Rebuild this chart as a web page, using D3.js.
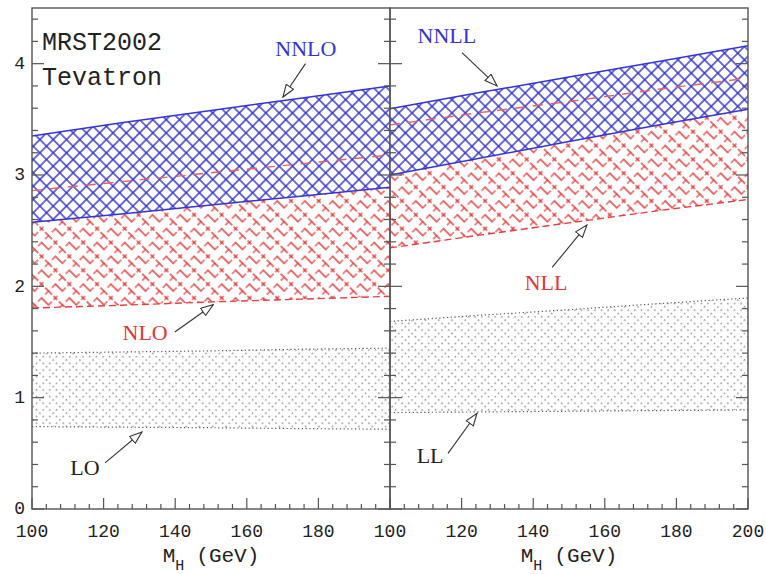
<!DOCTYPE html>
<html><head><meta charset="utf-8">
<script src="https://cdn.jsdelivr.net/npm/d3@7/dist/d3.min.js"></script>
<style>body{margin:0;background:#fff}</style>
</head><body><svg id="c" width="766" height="574"></svg>
<script>
// ---- data ----
const massPoints = [100, 125, 150, 175, 200];
// left panel (fixed order)
const nnloUpper = [3.35, 3.47, 3.58, 3.69, 3.80];
const nnloLower = [2.575, 2.65, 2.73, 2.81, 2.89];
const nloUpper  = [2.86, 2.94, 3.02, 3.10, 3.18];
const nloLower  = [1.805, 1.83, 1.86, 1.885, 1.91];
const loUpper   = [1.40, 1.41, 1.42, 1.435, 1.445];
const loLower   = [0.74, 0.735, 0.73, 0.722, 0.717];
// right panel (resummed)
const nnllUpper = [3.595, 3.74, 3.88, 4.02, 4.16];
const nnllLower = [3.00, 3.15, 3.30, 3.45, 3.59];
const nllUpper  = [3.45, 3.56, 3.66, 3.77, 3.87];
const nllLower  = [2.345, 2.46, 2.57, 2.68, 2.78];
const llUpper   = [1.685, 1.74, 1.79, 1.845, 1.895];
const llLower   = [0.866, 0.872, 0.878, 0.884, 0.89];
const xTickValues = [100, 120, 140, 160, 180, 200];
const yTickValues = [0, 1, 2, 3, 4];
// annotations: [label, textX, textY, arrowFromX, arrowFromY, arrowToX, arrowToY, colour] in data units
const leftLabels = [
  ["NNLO", 176.5, 4.065, 176.4, 4.00, 170.1, 3.70, "blue"],
  ["NLO", 131.6, 1.52, 139.9, 1.59, 150.6, 1.835, "red"],
  ["LO", 114.8, 0.306, 120.4, 0.414, 130.7, 0.692, "black"]
];
const rightLabels = [
  ["NNLL", 115.9, 4.19, 120.1, 4.10, 129.9, 3.80, "blue"],
  ["NLL", 143.6, 1.97, 145.3, 2.17, 155.0, 2.55, "red"],
  ["LL", 111.2, 0.414, 116.2, 0.50, 124.3, 0.86, "black"]
];

// ---- layout ----
const svg = d3.select("#c");
const topY = 8, bottomY = 509;
const panels = [
  {x0: 32, x1: 390, bands: {hi:[nnloLower,nnloUpper], mid:[nloLower,nloUpper], lo:[loLower,loUpper]}, labels: leftLabels, showLast:false},
  {x0: 390, x1: 748, bands: {hi:[nnllLower,nnllUpper], mid:[nllLower,nllUpper], lo:[llLower,llUpper]}, labels: rightLabels, showLast:true}
];
const y = d3.scaleLinear().domain([0, 4.5]).range([bottomY, topY]);
const colors = {blue:"#3434d4", red:"#e23636", black:"#222"};
const mono = "'Liberation Mono','Courier New',monospace";
const serif = "'Liberation Serif','Times New Roman',serif";

const defs = svg.append("defs");
// blue crosshatch
const cb = 9.4;
const pb = defs.append("pattern").attr("id","blueHatch").attr("patternUnits","userSpaceOnUse")
  .attr("width",cb).attr("height",cb).attr("patternTransform","rotate(45)");
pb.append("rect").attr("width",cb).attr("height",cb).attr("fill","#fff");
pb.append("line").attr("x1",0).attr("y1",cb/2).attr("x2",cb).attr("y2",cb/2).attr("stroke","#3030cc").attr("stroke-width",1.4);
pb.append("line").attr("x1",cb/2).attr("y1",0).attr("x2",cb/2).attr("y2",cb).attr("stroke","#3030cc").attr("stroke-width",1.4);
// red dashed hatch (corners, tees and crosses)
const cr = 9.8, hr = cr/2, a = 4.6;
const pr = defs.append("pattern").attr("id","redHatch").attr("patternUnits","userSpaceOnUse")
  .attr("width",2*cr).attr("height",2*cr).attr("patternTransform","rotate(45)");
const shapes = [
  [hr, hr, [[1,0],[0,1]]],
  [cr+hr, hr, [[-1,0],[0,-1]]],
  [hr, cr+hr, [[-1,0],[1,0],[0,1]]],
  [cr+hr, cr+hr, [[1,0],[0,1],[-1,0],[0,-1]], 2.2]
];
shapes.forEach(s => {
  const len = s[3] || a;
  s[2].forEach(d => pr.append("line").attr("x1",s[0]).attr("y1",s[1])
    .attr("x2",s[0]+d[0]*len).attr("y2",s[1]+d[1]*len)
    .attr("stroke","#e64040").attr("stroke-width",1.25).attr("stroke-linecap","round"));
});
// dotted hatch
const cd = 9.4;
const pd = defs.append("pattern").attr("id","dotHatch").attr("patternUnits","userSpaceOnUse")
  .attr("width",cd).attr("height",cd).attr("patternTransform","rotate(45)");
[[0,0],[cd/2,0],[0,cd/2]].forEach(p =>
  pd.append("rect").attr("x",p[0]+0.2).attr("y",p[1]+0.2).attr("width",1.2).attr("height",1.2).attr("fill","#555"));
// arrow marker
defs.append("marker").attr("id","arr").attr("viewBox","0 0 14 10").attr("refX",13).attr("refY",5)
  .attr("markerWidth",14).attr("markerHeight",10).attr("markerUnits","userSpaceOnUse").attr("orient","auto")
  .append("path").attr("d","M0.6,0.6 L13,5 L0.6,9.4 Z").attr("fill","#fff").attr("stroke","#333").attr("stroke-width",1.1);

panels.forEach((p, i) => {
  const x = d3.scaleLinear().domain([100, 200]).range([p.x0, p.x1]);
  const cid = "clip" + i;
  defs.append("clipPath").attr("id", cid).append("rect")
    .attr("x", p.x0).attr("y", topY).attr("width", p.x1 - p.x0).attr("height", bottomY - topY);
  const g = svg.append("g").attr("clip-path", `url(#${cid})`);
  const area = (lo, hi) => d3.area().x((d,j) => x(massPoints[j])).y0((d,j) => y(lo[j])).y1((d,j) => y(hi[j]))(massPoints);
  const line = arr => d3.line().x((d,j) => x(massPoints[j])).y((d,j) => y(arr[j]))(massPoints);

  g.append("path").attr("d", area(p.bands.lo[0], p.bands.lo[1])).attr("fill","url(#dotHatch)");
  [p.bands.lo[0], p.bands.lo[1]].forEach(arr => g.append("path").attr("d", line(arr)).attr("fill","none")
    .attr("stroke","#555").attr("stroke-width",1.2).attr("stroke-dasharray","1.2,2.6"));
  g.append("path").attr("d", area(p.bands.mid[0], p.bands.mid[1])).attr("fill","url(#redHatch)");
  g.append("path").attr("d", line(p.bands.mid[0])).attr("fill","none")
    .attr("stroke","#e64040").attr("stroke-width",1.4).attr("stroke-dasharray","7,4");
  g.append("path").attr("d", area(p.bands.hi[0], p.bands.hi[1])).attr("fill","url(#blueHatch)");
  [p.bands.hi[0], p.bands.hi[1]].forEach(arr => g.append("path").attr("d", line(arr)).attr("fill","none")
    .attr("stroke",colors.blue).attr("stroke-width",1.5));
  g.append("path").attr("d", line(p.bands.mid[1])).attr("fill","none")
    .attr("stroke","#e86060").attr("stroke-width",1.4).attr("stroke-dasharray","10,8");

  svg.append("rect").attr("x", p.x0).attr("y", topY).attr("width", p.x1 - p.x0).attr("height", bottomY - topY)
    .attr("fill","none").attr("stroke","#555").attr("stroke-width",1.4);

  const axG = svg.append("g").attr("stroke","#555").attr("stroke-width",1.2);
  d3.range(100, 200.1, 4).forEach(v => {
    const major = (v % 20 === 0);
    axG.append("line").attr("x1", x(v)).attr("x2", x(v)).attr("y1", bottomY).attr("y2", bottomY - (major ? 11 : 5));
  });
  d3.range(0, 4.51, 0.2).forEach(v => {
    const major = Math.abs(v - Math.round(v)) < 1e-6;
    const len = major ? 12 : 6;
    axG.append("line").attr("x1", p.x0).attr("x2", p.x0 + len).attr("y1", y(v)).attr("y2", y(v));
    axG.append("line").attr("x1", p.x1).attr("x2", p.x1 - len).attr("y1", y(v)).attr("y2", y(v));
  });

  const xl = p.showLast ? xTickValues : xTickValues.slice(0, -1);
  svg.append("g").selectAll("text").data(xl).join("text")
    .attr("x", d => x(d)).attr("y", 537).attr("text-anchor","middle")
    .attr("font-family", mono).attr("font-size", 18).attr("fill","#222").text(d => d);

  const t = svg.append("text").attr("x", x(150)).attr("y", 562).attr("text-anchor","middle")
    .attr("font-family", mono).attr("font-size", 21).attr("fill","#222");
  t.append("tspan").text("M");
  t.append("tspan").attr("font-size", 15).attr("dy", 8).text("H");
  t.append("tspan").attr("dy", -8).attr("dx", 12).text("(GeV)");

  p.labels.forEach(l => {
    svg.append("text").attr("x", x(l[1])).attr("y", y(l[2])).attr("text-anchor","middle")
      .attr("font-family", serif).attr("font-size", 22).attr("fill", colors[l[7]]).text(l[0]);
    svg.append("line").attr("x1", x(l[3])).attr("y1", y(l[4])).attr("x2", x(l[5])).attr("y2", y(l[6]))
      .attr("stroke","#333").attr("stroke-width",1.1).attr("marker-end","url(#arr)");
  });
});

svg.append("g").selectAll("text").data(yTickValues).join("text")
  .attr("x", 25).attr("y", d => y(d)).attr("dy","0.3em").attr("text-anchor","end")
  .attr("font-family", mono).attr("font-size", 18).attr("fill","#222").text(d => d);

svg.append("text").attr("x", 42).attr("y", 50).attr("font-family", mono).attr("font-size", 25).attr("fill","#222").text("MRST2002");
svg.append("text").attr("x", 42).attr("y", 85).attr("font-family", mono).attr("font-size", 25).attr("fill","#222").text("Tevatron");
</script></body></html>
